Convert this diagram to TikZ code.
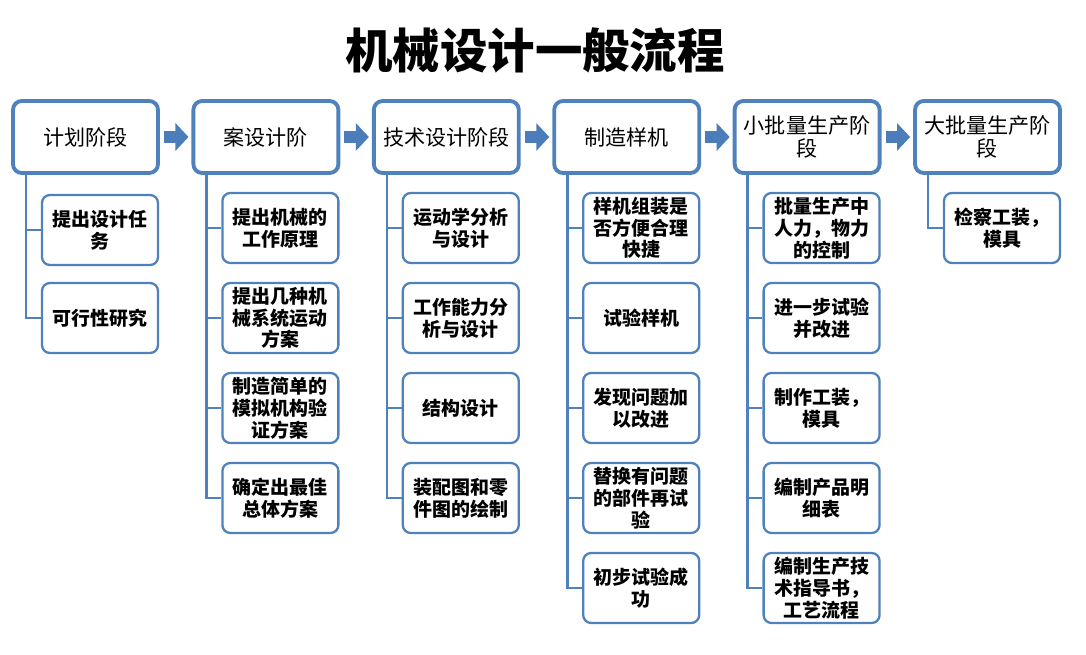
\documentclass[tikz,border=0pt]{standalone}
\usepackage{fontspec}
\setmainfont{Noto Sans CJK SC}
\usepackage{xcolor}
\usepackage{tikz}
\usetikzlibrary{positioning,arrows.meta}

\definecolor{boxblue}{HTML}{4F81BD}
\definecolor{arrowblue}{HTML}{4A7DBA}

\tikzset{
  stagebox/.style={draw=boxblue, line width=2.2pt, rounded corners=5pt, fill=white,
    minimum width=2.9cm, minimum height=1.44cm, align=center, inner sep=1pt,
    font=\fontsize{12}{13.5}\selectfont},
  taskbox/.style={draw=boxblue, line width=1.3pt, rounded corners=4.5pt, fill=white,
    minimum width=2.32cm, minimum height=1.4cm, align=center, inner sep=1pt,
    font=\bfseries\fontsize{10.8}{12.4}\selectfont},
  link/.style={draw=boxblue, line width=1.4pt},
  blockarrow/.style={draw=arrowblue, line width=0.24cm,
    -{Triangle[width=0.54cm,length=0.26cm]}, shorten <=0.08cm, shorten >=0.06cm}
}

\begin{document}
\begin{tikzpicture}[x=0.02cm, y=-0.02cm]
  \useasboundingbox (0,0) rectangle (1086,655);

  % title
  \node (title) at (535,50) {\bfseries\fontsize{27}{30}\selectfont 机械设计一般流程};

  % stages
  \node[stagebox] (p1) at (85.5,137) {计划阶段};
  \node[stagebox] (p2) at (265.9,137) {案设计阶};
  \node[stagebox] (p3) at (446.3,137) {技术设计阶段};
  \node[stagebox] (p4) at (626.7,137) {制造样机};
  \node[stagebox] (p5) at (807.1,137) {小批量生产阶\\段};
  \node[stagebox] (p6) at (987.5,137) {大批量生产阶\\段};

  % arrows between stages
  \foreach \a/\b in {1/2,2/3,3/4,4/5,5/6}
    \draw[blockarrow] (p\a.east) -- (p\b.west);

  % planning
  \node[taskbox] (c1-1) at (100,230) {提出设计任\\务};
  \node[taskbox] (c1-2) at (100,318) {可行性研究};

  % scheme design
  \node[taskbox] (c2-1) at (280.4,228) {提出机械的\\工作原理};
  \node[taskbox] (c2-2) at (280.4,318) {提出几种机\\械系统运动\\方案};
  \node[taskbox] (c2-3) at (280.4,408) {制造简单的\\模拟机构验\\证方案};
  \node[taskbox] (c2-4) at (280.4,498) {确定出最佳\\总体方案};

  % technical design
  \node[taskbox] (c3-1) at (460.8,228) {运动学分析\\与设计};
  \node[taskbox] (c3-2) at (460.8,318) {工作能力分\\析与设计};
  \node[taskbox] (c3-3) at (460.8,408) {结构设计};
  \node[taskbox] (c3-4) at (460.8,498) {装配图和零\\件图的绘制};

  % prototype
  \node[taskbox] (c4-1) at (641.2,228) {样机组装是\\否方便合理\\快捷};
  \node[taskbox] (c4-2) at (641.2,318) {试验样机};
  \node[taskbox] (c4-3) at (641.2,408) {发现问题加\\以改进};
  \node[taskbox] (c4-4) at (641.2,498) {替换有问题\\的部件再试\\验};
  \node[taskbox] (c4-5) at (641.2,588) {初步试验成\\功};

  % small batch
  \node[taskbox] (c5-1) at (821.6,228) {批量生产中\\人力，物力\\的控制};
  \node[taskbox] (c5-2) at (821.6,318) {进一步试验\\并改进};
  \node[taskbox] (c5-3) at (821.6,408) {制作工装，\\模具};
  \node[taskbox] (c5-4) at (821.6,498) {编制产品明\\细表};
  \node[taskbox] (c5-5) at (821.6,588) {编制生产技\\术指导书，\\工艺流程};

  % mass production
  \node[taskbox] (c6-1) at (1002,228) {检察工装，\\模具};

  % tree links
  \foreach \p/\n in {1/2,2/4,3/4,4/5,5/5,6/1}
    \foreach \k in {1,...,\n}
      \draw[link] ([xshift=0.3cm]p\p.south west) |- (c\p-\k.west);
\end{tikzpicture}
\end{document}
